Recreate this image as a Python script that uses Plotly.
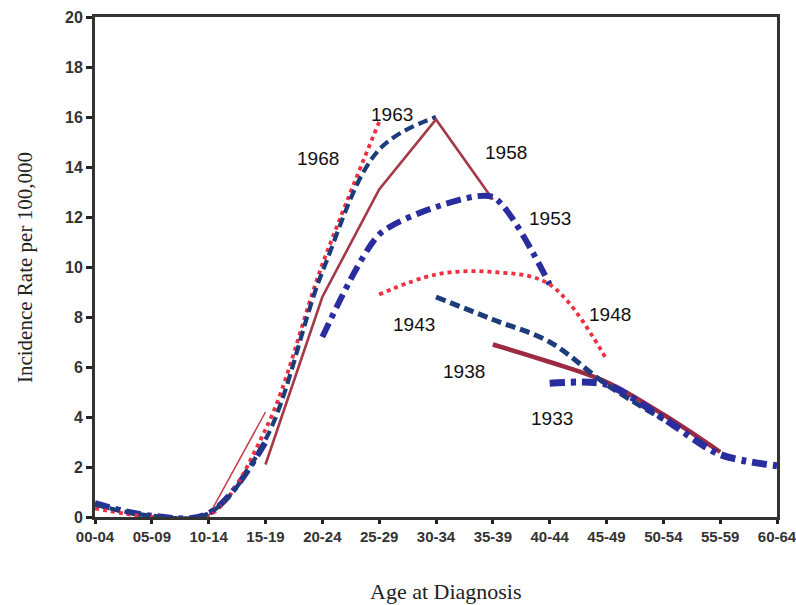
import plotly.graph_objects as go

ages = ["00-04", "05-09", "10-14", "15-19", "20-24", "25-29", "30-34",
        "35-39", "40-44", "45-49", "50-54", "55-59", "60-64"]
y_ticks = [0, 2, 4, 6, 8, 10, 12, 14, 16, 18, 20]

# cohort curves: (age labels, incidence rate per 100,000)
young_dashdot_x = ages[0:4]
young_dashdot_y = [0.55, 0.05, 0.15, 3.0]
young_thin_x = ages[2:4]
young_thin_y = [0.05, 4.2]
c1968_x = ages[0:6]
c1968_y = [0.35, 0.0, 0.05, 3.5, 10.1, 15.8]
c1963_x = ages[0:7]
c1963_y = [0.5, 0.05, 0.15, 3.1, 9.8, 14.7, 16.0]
c1958_x = ages[3:8]
c1958_y = [2.1, 8.8, 13.1, 15.9, 12.7]
c1953_x = ages[4:9]
c1953_y = [7.2, 11.3, 12.4, 12.8, 9.3]
c1948_x = ages[5:10]
c1948_y = [8.9, 9.7, 9.8, 9.3, 6.3]
c1943_x = ages[6:11]
c1943_y = [8.8, 7.9, 7.0, 5.3, 3.9]
c1938_x = ages[7:12]
c1938_y = [6.9, 6.2, 5.4, 4.1, 2.6]
c1933_x = ages[8:13]
c1933_y = [5.35, 5.3, 3.95, 2.5, 2.05]

RED = "#ee2f3f"
NAVY = "#1d3c7c"
BLUE = "#2a2d9e"
MAROON = "#a63848"

DOT = "4px,4px"
DASH = "10px,5px"
DASHDOT = "15px,6px,5px,6px"

fig = go.Figure()

def add(x, y, color, width, dash, shape="spline", smooth=1.0):
    line = dict(color=color, width=width, dash=dash, shape=shape)
    if shape == "spline":
        line["smoothing"] = smooth
    fig.add_trace(go.Scatter(
        x=x, y=y, mode="lines", line=line,
        showlegend=False, hoverinfo="skip"))

add(c1938_x, c1938_y, "#9c2a42", 4.5, "solid")
add(young_thin_x, young_thin_y, "#c83a4c", 1.5, "solid", "linear")
add(young_dashdot_x, young_dashdot_y, BLUE, 6, DASHDOT)
add(c1968_x, c1968_y, RED, 3.8, DOT)
add(c1963_x, c1963_y, NAVY, 4.2, DASH)
add(c1958_x, c1958_y, MAROON, 2.6, "solid", "linear")
add(c1953_x, c1953_y, BLUE, 6, DASHDOT, "spline", 0.7)
add(c1948_x, c1948_y, RED, 3.8, DOT)
add(c1943_x, c1943_y, NAVY, 5, DASH)
add(c1933_x, c1933_y, BLUE, 7, DASHDOT, "spline", 0.8)

labels = [("1968", 3.92, 14.36), ("1963", 5.23, 16.12), ("1958", 7.23, 14.6),
          ("1953", 8.0, 11.96), ("1948", 9.06, 8.12), ("1943", 5.61, 7.72),
          ("1938", 6.49, 5.84), ("1933", 8.04, 3.96)]
anns = []
for t, x, y in labels:
    anns.append(dict(text=t, x=x, y=y, xref="x", yref="y", showarrow=False,
                     font=dict(family="Liberation Sans, Arial", size=19, color="#111")))

anns.append(dict(text="Age at Diagnosis", x=0.515, y=-0.148, xref="paper", yref="paper",
                 xanchor="center", yanchor="middle", showarrow=False,
                 font=dict(family="Liberation Serif, Times New Roman", size=22, color="#222")))
anns.append(dict(text="Incidence Rate per 100,000", x=-0.1026, y=0.498, xref="paper", yref="paper",
                 xanchor="center", yanchor="middle", textangle=-90, showarrow=False,
                 font=dict(family="Liberation Serif, Times New Roman", size=21, color="#222")))

fig.update_layout(
    width=796, height=605,
    margin=dict(l=95, r=19, t=17, b=88, autoexpand=False),
    paper_bgcolor="white", plot_bgcolor="white",
    annotations=anns,
    xaxis=dict(type="category", categoryorder="array", categoryarray=ages,
               range=[0, 12], showgrid=False, zeroline=False, automargin=False,
               showline=True, linecolor="#333", linewidth=3, mirror=True,
               ticks="outside", ticklen=4, tickwidth=3, tickcolor="#222",
               tickfont=dict(family="Liberation Sans, Arial", size=15, color="#333", weight="bold")),
    yaxis=dict(range=[0, 20], tickvals=y_ticks, showgrid=False, zeroline=False, automargin=False,
               showline=True, linecolor="#333", linewidth=3, mirror=True,
               ticks="outside", ticklen=6, tickwidth=3, tickcolor="#222",
               tickfont=dict(family="Liberation Sans, Arial", size=16, color="#333", weight="bold")),
)

fig.write_html("out.html")
